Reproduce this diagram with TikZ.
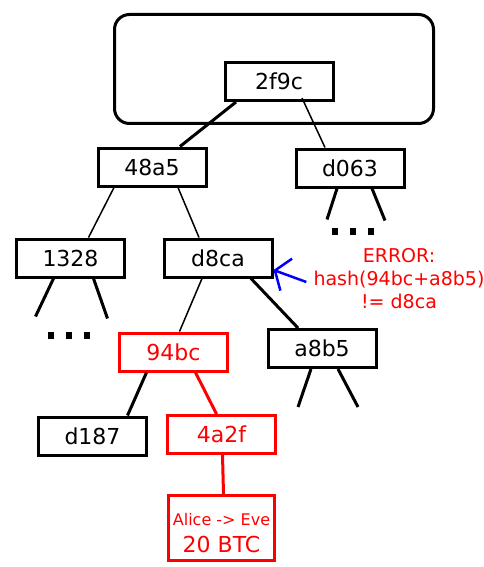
\documentclass[tikz,border=0pt]{standalone}
\usepackage{fontspec}
\setmainfont{DejaVu Sans}
\usepackage{tikz}
\usetikzlibrary{arrows.meta}

\begin{document}
\begin{tikzpicture}[x=1pt,y=-1pt]
    \tikzset{hashbox/.style = {shape=rectangle,draw,line width=3pt,inner sep=0pt,minimum width=108pt,minimum height=38pt,font=\fontsize{22}{26}\selectfont}}
    \tikzset{badbox/.style = {hashbox,draw=red,text=red}}
    \tikzset{blockbox/.style = {shape=rectangle,draw,line width=3pt,rounded corners=15pt,minimum width=319pt,minimum height=109pt}}
    \tikzset{dotbox/.style = {shape=rectangle,fill,inner sep=0pt,minimum width=6pt,minimum height=7pt}}
    \tikzset{edge/.style = {-,line width=1.5pt}}
    \tikzset{thickedge/.style = {-,line width=3pt}}
    \tikzset{badedge/.style = {-,line width=3pt,red}}
    \tikzset{errarrow/.style = {-{Straight Barb[length=12pt,width=34pt]},line width=2.5pt,blue}}

    \useasboundingbox (0,0) rectangle (483,567);

    % vertices

    \node[blockbox] (block) at (274,69) {};
    \node[hashbox] (h2f9c) at (279,81.5) {2f9c};

    \node[hashbox] (h48a5) at (152,167) {48a5};
    \node[hashbox] (hd063) at (350,168) {d063};

    \node[hashbox] (h1328) at (70.5,258) {1328};
    \node[hashbox] (hd8ca) at (218,258) {d8ca};

    \node[badbox] (h94bc) at (173.5,352) {94bc};
    \node[hashbox] (ha8b5) at (322,348.5) {a8b5};

    \node[hashbox] (hd187) at (92.5,436) {d187};
    \node[badbox] (h4a2f) at (221.5,434.5) {4a2f};

    \node[badbox,minimum height=65pt,minimum width=106pt,align=center] (tx) at (221.5,528)
        {{\fontsize{16}{18}\selectfont\rule{0pt}{22pt}Alice -> Eve}\\[1pt]20 BTC};

    \node[text=red,align=center,inner sep=0pt,font=\fontsize{19}{23}\selectfont] (err) at (399,279)
        {ERROR:\\hash(94bc+a8b5)\\!= d8ca};

    \foreach \x in {51,69,87} \node[dotbox] (dl\x) at (\x,335) {};
    \foreach \x in {335,353,371} \node[dotbox] (dr\x) at (\x,231) {};

    % edges

    \draw[thickedge] ([xshift=-43pt]h2f9c.south) to ([xshift=28pt]h48a5.north);
    \draw[edge] ([xshift=23pt,yshift=4pt]h2f9c.south) to ([xshift=-25pt]hd063.north);
    \draw[edge] ([xshift=-38pt]h48a5.south) to ([xshift=18pt]h1328.north);
    \draw[edge] ([xshift=26pt]h48a5.south) to ([xshift=-19pt]hd8ca.north);
    \draw[edge] ([xshift=-16pt]hd8ca.south) to ([xshift=6pt]h94bc.north);
    \draw[thickedge] ([xshift=33pt]hd8ca.south) to ([xshift=-24pt]ha8b5.north);
    \draw[thickedge] ([xshift=-27pt]h94bc.south) to ([xshift=35pt]hd187.north);
    \draw[badedge] ([xshift=22pt]h94bc.south) to ([xshift=-5pt]h4a2f.north);
    \draw[badedge] ([xshift=1pt]h4a2f.south) to ([xshift=2pt]tx.north);

    \draw[thickedge] ([xshift=-17pt]h1328.south) -- ++(-18,38);
    \draw[thickedge] ([xshift=23pt]h1328.south) -- ++(14,40);
    \draw[thickedge] ([xshift=-13pt]hd063.south) -- ++(-10,31);
    \draw[thickedge] ([xshift=22pt]hd063.south) -- ++(13,32);
    \draw[thickedge] ([xshift=-11pt]ha8b5.south) -- ++(-13,38);
    \draw[thickedge] ([xshift=16pt]ha8b5.south) -- ++(20,38);

    \draw[errarrow] ([shift={(-7,3)}]err.west) to ([yshift=-12pt]hd8ca.east);
\end{tikzpicture}
\end{document}
